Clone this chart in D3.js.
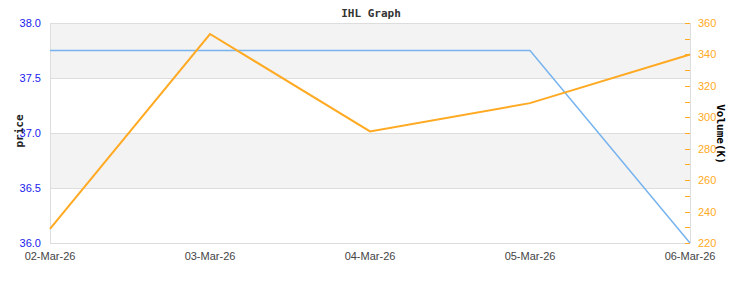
<!DOCTYPE html>
<html>
<head>
<meta charset="utf-8">
<script src="https://cdn.jsdelivr.net/npm/d3@7"></script>
<style>
  body { margin: 0; background: #fff; }
  svg { display: block; }
</style>
</head>
<body>
<svg id="chart" width="750" height="293"></svg>
<script>
const dates = ["02-Mar-26", "03-Mar-26", "04-Mar-26", "05-Mar-26", "06-Mar-26"];
const price = [37.75, 37.75, 37.75, 37.75, 36.0];
const volume = [229, 353, 291, 309, 340];
const priceTicks = [36.0, 36.5, 37.0, 37.5, 38.0];
const volumeTicks = [220, 240, 260, 280, 300, 320, 340, 360];

const svg = d3.select("#chart");
const plotLeft = 50, plotRight = 690, plotTop = 23, plotBottom = 243;
const tickFont = "11px 'Liberation Sans', Arial, sans-serif";
const nameFont = "bold 11px 'DejaVu Sans Mono', monospace";

const x = d3.scalePoint().domain(dates).range([plotLeft, plotRight]);
const yP = d3.scaleLinear().domain([36, 38]).range([plotBottom, plotTop]);
const yV = d3.scaleLinear().domain([220, 360]).range([plotBottom, plotTop]);

// alternating bands
const bands = d3.pairs(priceTicks);
svg.append("g")
  .selectAll("rect")
  .data(bands)
  .enter()
  .append("rect")
  .attr("x", plotLeft)
  .attr("width", plotRight - plotLeft)
  .attr("y", d => yP(d[1]))
  .attr("height", d => yP(d[0]) - yP(d[1]))
  .attr("fill", (d, i) => i % 2 ? "#f3f3f3" : "#ffffff");

// grid lines
svg.append("g")
  .selectAll("line")
  .data(priceTicks)
  .enter()
  .append("line")
  .attr("x1", plotLeft).attr("x2", plotRight)
  .attr("y1", d => Math.round(yP(d)) + 0.5)
  .attr("y2", d => Math.round(yP(d)) + 0.5)
  .attr("stroke", "#dddddd");

svg.append("line")
  .attr("x1", plotLeft + 0.5).attr("x2", plotLeft + 0.5)
  .attr("y1", plotTop).attr("y2", plotBottom)
  .attr("stroke", "#dddddd");
svg.append("line")
  .attr("x1", plotRight + 0.5).attr("x2", plotRight + 0.5)
  .attr("y1", plotTop).attr("y2", plotBottom)
  .attr("stroke", "#dddddd");

// right axis ticks every 10
const minor = d3.range(220, 361, 10);
svg.append("g")
  .selectAll("line")
  .data(minor)
  .enter()
  .append("line")
  .attr("x1", plotRight - 5).attr("x2", plotRight)
  .attr("y1", d => Math.round(yV(d)) + 0.5)
  .attr("y2", d => Math.round(yV(d)) + 0.5)
  .attr("stroke", "#ffaa22");

// left labels
svg.append("g")
  .selectAll("text")
  .data(priceTicks)
  .enter()
  .append("text")
  .attr("x", 41)
  .attr("y", d => yP(d) + 4)
  .attr("text-anchor", "end")
  .style("font", tickFont)
  .style("fill", "#1a1aee")
  .text(d => d.toFixed(1));

// right labels
svg.append("g")
  .selectAll("text")
  .data(volumeTicks)
  .enter()
  .append("text")
  .attr("x", 698)
  .attr("y", d => yV(d) + 4)
  .style("font", tickFont)
  .style("fill", "#ffaa22")
  .text(d => d);

// x labels
svg.append("g")
  .selectAll("text")
  .data(dates)
  .enter()
  .append("text")
  .attr("x", d => x(d))
  .attr("y", 260)
  .attr("text-anchor", "middle")
  .style("font", tickFont)
  .style("fill", "#444444")
  .text(d => d);

// lines
const priceLine = d3.line().x((d, i) => x(dates[i])).y(d => yP(d));
const volLine = d3.line().x((d, i) => x(dates[i])).y(d => yV(d));

svg.append("path")
  .datum(price)
  .attr("d", priceLine)
  .attr("fill", "none")
  .attr("stroke", "#77b3ee")
  .attr("stroke-width", 1.5);

svg.append("path")
  .datum(volume)
  .attr("d", volLine)
  .attr("fill", "none")
  .attr("stroke", "#ffaa22")
  .attr("stroke-width", 2);

// title and axis names
svg.append("text")
  .attr("x", 371).attr("y", 17)
  .attr("text-anchor", "middle")
  .style("font", nameFont)
  .style("fill", "#333333")
  .text("IHL Graph");

svg.append("text")
  .attr("transform", "translate(23,131) rotate(-90)")
  .attr("text-anchor", "middle")
  .style("font", nameFont)
  .style("fill", "#222222")
  .text("price");

svg.append("text")
  .attr("transform", "translate(717,134) rotate(90)")
  .attr("text-anchor", "middle")
  .style("font", nameFont)
  .style("fill", "#000000")
  .text("Volume(K)");
</script>
</body>
</html>
